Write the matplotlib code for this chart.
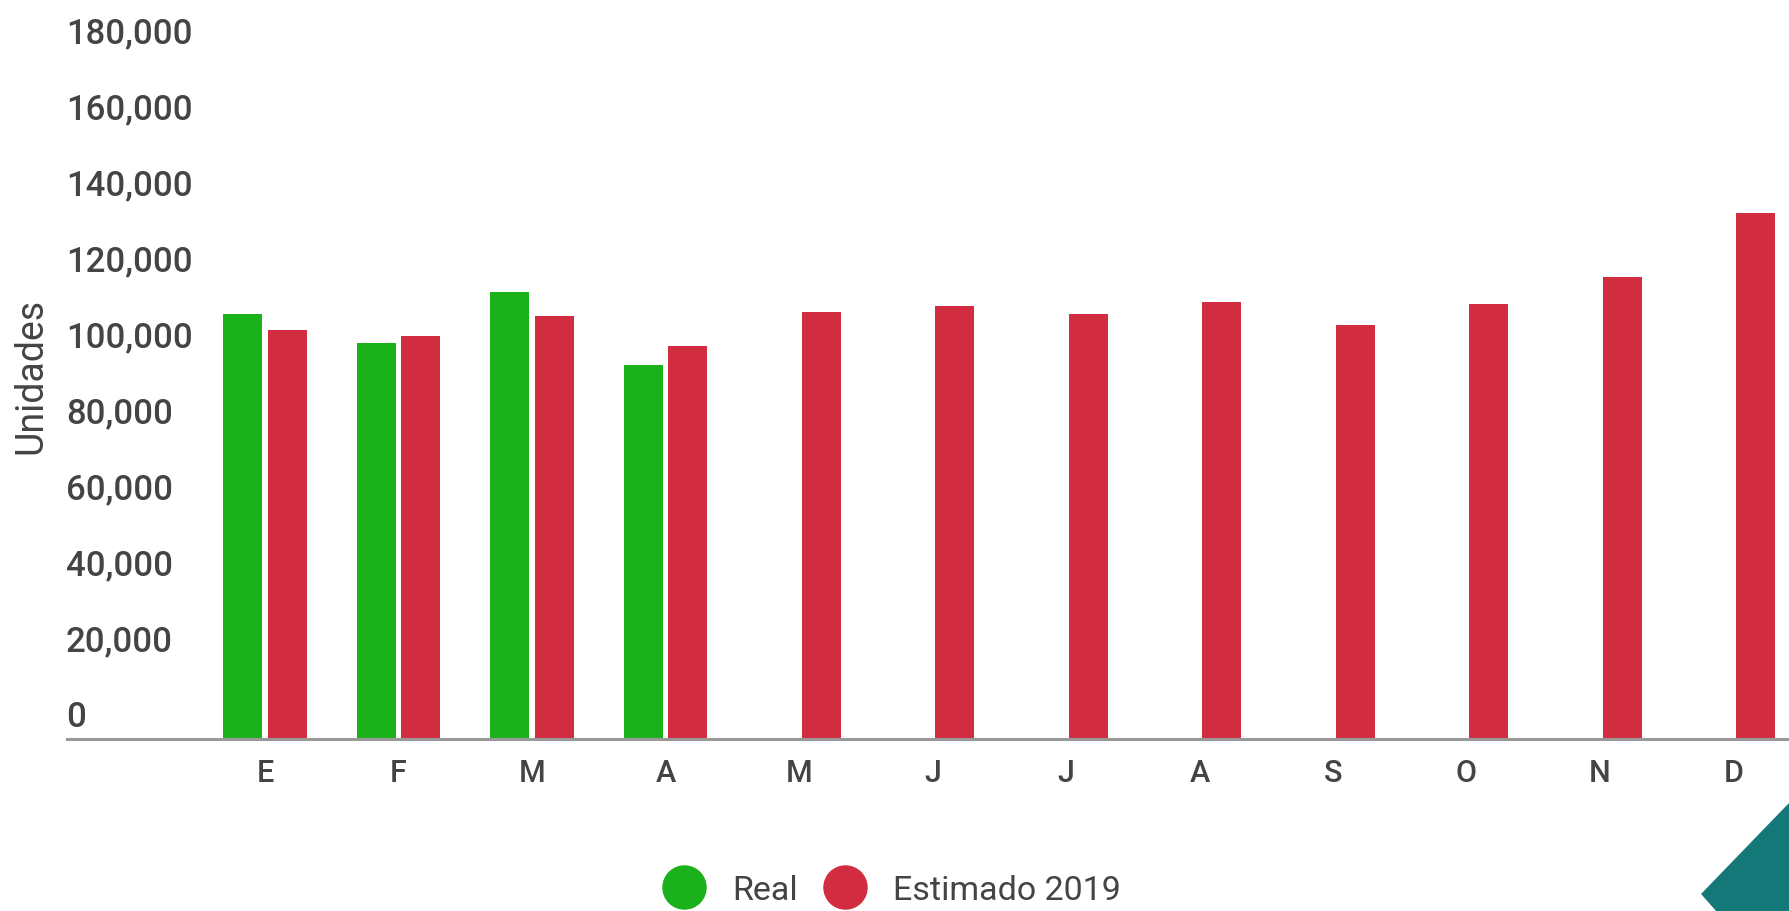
import numpy as np
import matplotlib
matplotlib.use("Agg")
import matplotlib.pyplot as plt
from matplotlib.patches import Polygon
from matplotlib.lines import Line2D
from matplotlib.transforms import offset_copy, blended_transform_factory

# ---------------------------------------------------------------------------
# Data
# ---------------------------------------------------------------------------
months = ["E", "F", "M", "A", "M", "J", "J", "A", "S", "O", "N", "D"]
real = [111600, 104100, 117600, 98400]
estimado = [107400, 105900, 111300, 103200, 112200, 113700,
            111600, 114900, 108900, 114300, 121500, 138300]
y_ticks = [0, 20000, 40000, 60000, 80000, 100000, 120000, 140000, 160000, 180000]

GREEN = "#1bb11b"
RED = "#d22c41"
TEXT = "#444444"

plt.rcParams["font.family"] = ["Roboto", "DejaVu Sans"]

fig = plt.figure(figsize=(17.89, 9.12), dpi=100)
ax = fig.add_axes([67 / 1789, 1 - 739.5 / 912, 1 - 67 / 1789, (739.5 - 55.5) / 912])

x = np.arange(len(months))
bw = 0.29
off = 0.167
ax.bar(x[:len(real)] - off, real, width=bw, color=GREEN, label="Real", zorder=2)
ax.bar(x + off, estimado, width=bw, color=RED, label="Estimado 2019", zorder=2)

ax.set_xlim(-1.483, 11.416)
ax.set_ylim(0, 180000)

for s in ["top", "right", "left"]:
    ax.spines[s].set_visible(False)
ax.spines["bottom"].set_color("#999999")
ax.spines["bottom"].set_linewidth(2.2)

ax.set_xticks(x, months)
ax.tick_params(axis="x", length=0, pad=14, labelsize=22, labelcolor=TEXT)
for lab in ax.get_xticklabels():
    lab.set_fontweight("medium")
ax.set_yticks([])

# y labels sit inside the plot, just above their value
ytr = offset_copy(blended_transform_factory(ax.transAxes, ax.transData),
                  fig=fig, x=-1 / 100, y=22 / 100, units="inches")
for v in y_ticks:
    ax.text(0, v, f"{v:,}", transform=ytr, ha="left", va="center",
            fontsize=25, color=TEXT, fontweight="medium")

fig.text(31 / 1789, 1 - 376 / 912, "Unidades", rotation=90, ha="center",
         va="center", fontsize=27, color=TEXT)

# legend with round markers near bottom edge
handles = [Line2D([], [], marker="o", ls="", ms=31, color=GREEN, label="Real"),
           Line2D([], [], marker="o", ls="", ms=31, color=RED, label="Estimado 2019")]
fig.legend(handles=handles, loc="center", bbox_to_anchor=(894 / 1789, 1 - 891 / 912),
           ncol=2, frameon=False, fontsize=24.5, labelcolor=TEXT,
           handletextpad=0.9, columnspacing=0.9, handlelength=1.0)

# teal corner decoration
fig.patches.append(Polygon([(1702 / 1789, 1 - 895 / 912), (1.0, 1 - 805 / 912),
                            (1.0, 0.0), (1717 / 1789, 0.0)],
                           closed=True, transform=fig.transFigure,
                           color="#147878", zorder=5))

fig.savefig("out.png", dpi=100)
